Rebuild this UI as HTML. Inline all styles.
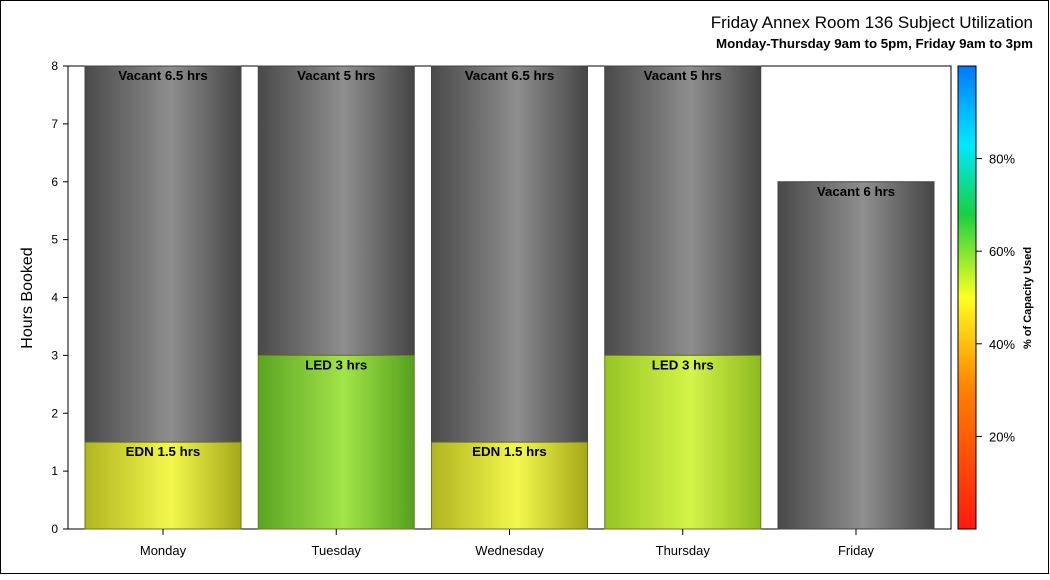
<!DOCTYPE html>
<html><head><meta charset="utf-8"><style>
body{margin:0;background:#fff;}
svg text{font-family:"Liberation Sans",Arial,sans-serif;}
</style></head><body>
<svg id="c" width="1050" height="575" xmlns="http://www.w3.org/2000/svg">
<defs>
<linearGradient id="gGray" x1="0" x2="1" y1="0" y2="0"><stop offset="0" stop-color="#4a4a4a"/><stop offset="0.55" stop-color="#8e8e8e"/><stop offset="1" stop-color="#454545"/></linearGradient>
<linearGradient id="gYel" x1="0" x2="1" y1="0" y2="0"><stop offset="0" stop-color="#b0b420"/><stop offset="0.55" stop-color="#f4f84c"/><stop offset="1" stop-color="#a4a818"/></linearGradient>
<linearGradient id="gGrn" x1="0" x2="1" y1="0" y2="0"><stop offset="0" stop-color="#5aa422"/><stop offset="0.55" stop-color="#a2e448"/><stop offset="1" stop-color="#54a01e"/></linearGradient>
<linearGradient id="gLime" x1="0" x2="1" y1="0" y2="0"><stop offset="0" stop-color="#96c424"/><stop offset="0.55" stop-color="#d4f448"/><stop offset="1" stop-color="#8cba1e"/></linearGradient>
<linearGradient id="gBar" x1="0" x2="0" y1="1" y2="0"><stop offset="0" stop-color="#ff1a10"/><stop offset="0.3" stop-color="#ff8000"/><stop offset="0.5" stop-color="#ffff20"/><stop offset="0.68" stop-color="#18d040"/><stop offset="0.83" stop-color="#00e8ff"/><stop offset="1" stop-color="#0078ff"/></linearGradient>
</defs>
<rect x="0.5" y="0.5" width="1048" height="573" fill="#fff" stroke="#000"/>
<text x="1033" y="28" text-anchor="end" font-size="17">Friday Annex Room 136 Subject Utilization</text>
<text x="1033" y="48" text-anchor="end" font-size="13.3" font-weight="bold">Monday-Thursday 9am to 5pm, Friday 9am to 3pm</text>
<rect x="68" y="66" width="883" height="463" fill="none" stroke="#000"/>
<text transform="translate(32,298) rotate(-90)" text-anchor="middle" font-size="16">Hours Booked</text>
<g id="yax"></g><g id="bars"></g><g id="xax"></g>
<rect x="958" y="66" width="18" height="463" fill="url(#gBar)" stroke="#000"/>
<g id="cax"></g>
<text transform="translate(1031,298) rotate(-90)" text-anchor="middle" font-size="11" font-weight="bold">% of Capacity Used</text>
</svg>
<script>
const days=["Monday","Tuesday","Wednesday","Thursday","Friday"];
const booked=[1.5,3,1.5,3,0];
const bookedLabels=["EDN 1.5 hrs","LED 3 hrs","EDN 1.5 hrs","LED 3 hrs",""];
const bookedFill=["gYel","gGrn","gYel","gLime","gGray"];
const vacant=[6.5,5,6.5,5,6];
const yTicks=[0,1,2,3,4,5,6,7,8];
const pctTicks=[20,40,60,80];
const NS="http://www.w3.org/2000/svg";
const X0=68,X1=951,Y0=529,Y1=66;
const y=v=>Y0-(v/8)*(Y0-Y1);
const XA=163,XB=856;
const xc=i=>XA+(XB-XA)*i/(days.length-1);
const cy=p=>Y0-(p/100)*(Y0-Y1);
function mk(t,a,p){const e=document.createElementNS(NS,t);for(const k in a)e.setAttribute(k,a[k]);p.appendChild(e);return e;}
const yax=document.getElementById('yax');
yTicks.forEach(v=>{
 const l=mk('line',{x1:63,x2:68,y1:y(v),y2:y(v),stroke:'#000'},yax);
 
 
 const t=mk('text',{x:58,y:y(v)+4,'text-anchor':'end','font-size':12},yax);t.textContent=v;
 
 
});
const bars=document.getElementById('bars'),xax=document.getElementById('xax');
days.forEach((d,i)=>{
 const x=xc(i)-78,w=156;
 const top=booked[i]+vacant[i];
 const r1=mk('rect',{x:x,y:y(top),width:w,height:y(booked[i])-y(top),fill:'url(#gGray)',stroke:'#444'},bars);
 
 
 const t1=mk('text',{x:xc(i),y:y(top)+14,'text-anchor':'middle','font-size':13.3,'font-weight':'bold'},bars);t1.textContent='Vacant '+vacant[i]+' hrs';
 
 
 if(booked[i]>0){
  const r2=mk('rect',{x:x,y:y(booked[i]),width:w,height:Y0-y(booked[i]),fill:'url(#'+bookedFill[i]+')',stroke:'#6a7a20'},bars);
  
  
  const t2=mk('text',{x:xc(i),y:y(booked[i])+14,'text-anchor':'middle','font-size':13.3,'font-weight':'bold'},bars);t2.textContent=bookedLabels[i];
  
  
 }
 const tk=mk('line',{x1:xc(i),x2:xc(i),y1:529,y2:535,stroke:'#000'},xax);
 
 
 const tl=mk('text',{x:xc(i),y:555,'text-anchor':'middle','font-size':13},xax);tl.textContent=d;
 
 
});
const cax=document.getElementById('cax');
pctTicks.forEach(p=>{
 const l=mk('line',{x1:976,x2:982,y1:cy(p),y2:cy(p),stroke:'#000'},cax);
 
 
 const t=mk('text',{x:989,y:cy(p)+5,'font-size':13},cax);t.textContent=p+'%';
 
 
});
</script>
</body></html>
